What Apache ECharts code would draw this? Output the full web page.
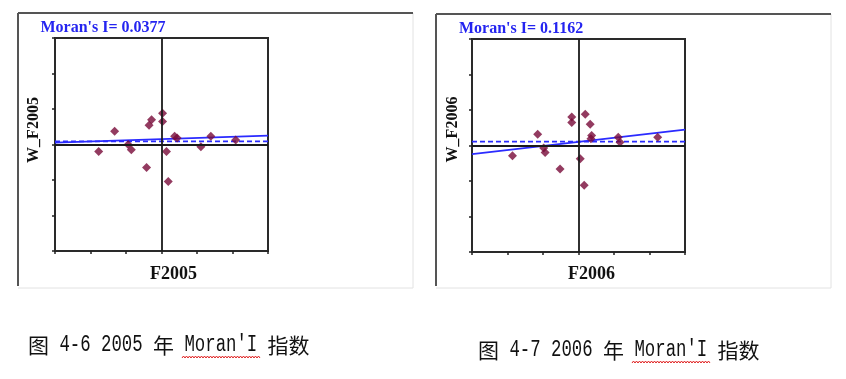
<!DOCTYPE html>
<html><head><meta charset="utf-8">
<script src="https://cdn.jsdelivr.net/npm/echarts@6/dist/echarts.min.js"></script>
<style>html,body{margin:0;padding:0;background:#fff}#c{width:846px;height:379px}</style>
</head><body><div id="c"></div>
<script>
// ---- data ----
const x2005 = [-1.77,-1.32,-0.94,-0.85,-0.42,-0.35,-0.28,0.03,0.03,0.14,0.19,0.37,0.44,1.11,1.39,2.09];
const y2005 = [-0.20,0.37,0.00,-0.15,-0.65,0.54,0.70,0.88,0.65,-0.20,-1.04,0.23,0.18,-0.06,0.23,0.13];
const x2006 = [-1.86,-1.15,-0.98,-0.94,-0.52,-0.19,-0.19,0.05,0.16,0.19,0.33,0.37,0.35,1.12,1.17,2.23];
const y2006 = [-0.29,0.32,-0.07,-0.20,-0.66,0.80,0.65,-0.37,-1.12,0.88,0.60,0.28,0.19,0.23,0.09,0.23];
const fit2005 = [[-3,0.05],[3,0.25]];
const ref2005 = [[-3,0.09],[3,0.09]];
const fit2006 = [[-3,-0.24],[3,0.45]];
const ref2006 = [[-3,0.11],[3,0.11]];
const titles = ["Moran's I= 0.0377", "Moran's I= 0.1162"];
const xNames = ['F2005','F2006'];
const yNames = ['W_F2005','W_F2006'];
const caption1 = ['图',' 4-6 2005 ','年'," Moran'I ",'指数'];
const caption2 = ['图',' 4-7 2006 ','年'," Moran'I ",'指数'];

const zip = (a,b) => a.map((v,i)=>[v,b[i]]);
const chart = echarts.init(document.getElementById('c'));

function ax(i){return {gridIndex:i,type:'value',min:-3,max:3,interval:1,
  axisLine:{show:false,onZero:false},axisTick:{show:true,length:3,lineStyle:{color:'#222',width:1.5}},
  axisLabel:{show:false},splitLine:{show:false}};}

const BLUE = '#2b2bff';
function seriesFor(i, pts, fit, ref){
  return [
    {type:'line',xAxisIndex:i,yAxisIndex:i,data:ref,showSymbol:false,z:1,silent:true,
     lineStyle:{color:BLUE,width:1.8,type:[5,3]},
     markLine:{silent:true,symbol:['none','none'],label:{show:false},animation:false,
       lineStyle:{color:'#1a1a1a',width:1.8,type:'solid'},data:[{xAxis:0},{yAxis:0}]}},
    {type:'line',xAxisIndex:i,yAxisIndex:i,data:fit,showSymbol:false,z:2,silent:true,
     lineStyle:{color:BLUE,width:1.8}},
    {type:'scatter',xAxisIndex:i,yAxisIndex:i,data:pts,symbol:'diamond',symbolSize:9,z:3,
     itemStyle:{color:'#780a38'}}
  ];
}

function panel(l,t,r,b){
  return [
    {type:'line',shape:{x1:r,y1:t,x2:r,y2:b},style:{stroke:'#e2e2e2',lineWidth:1}},
    {type:'line',shape:{x1:l,y1:b,x2:r,y2:b},style:{stroke:'#e2e2e2',lineWidth:1}},
    {type:'line',shape:{x1:l,y1:t,x2:r,y2:t},style:{stroke:'#555',lineWidth:2}},
    {type:'line',shape:{x1:l,y1:t,x2:l,y2:b-2},style:{stroke:'#555',lineWidth:2}}
  ];
}

function caption(parts, x0, y){
  const els = []; let x = x0; let ul = null;
  parts.forEach(p=>{
    if(/[^\x00-\xff]/.test(p)){
      els.push({type:'text',x:x,y:y,style:{text:p,font:'21px "Noto Sans CJK SC"',fill:'#111',align:'left',verticalAlign:'middle'}});
      x += 21*p.length;
    } else {
      els.push({type:'text',x:x,y:y,scaleX:0.754,style:{text:p,font:'23px "Liberation Mono"',fill:'#111',align:'left',verticalAlign:'middle'}});
      if(p.indexOf('Moran')>=0) ul=[x+8, x+10.4*8+4];
      x += 10.4*p.length;
    }
  });
  if(ul){
    const pts=[]; let k=0;
    for(let xx=ul[0]; xx<=ul[1]; xx+=1.5, k++) pts.push([xx, y+12+(k%2?-1:1)]);
    els.push({type:'polyline',shape:{points:pts},style:{stroke:'#e02020',lineWidth:1,fill:null}});
  }
  return els;
}

const titleFont = 'bold 16px "Liberation Serif"';
const graphic = [].concat(
  panel(18,13,413,288),
  panel(436,14,831,288),
  [
    {type:'text',x:40.5,y:28,style:{text:titles[0],font:titleFont,fill:'#2424f0',align:'left',verticalAlign:'middle'}},
    {type:'text',x:459,y:29,style:{text:titles[1],font:titleFont,fill:'#2424f0',align:'left',verticalAlign:'middle'}},
    {type:'text',x:34,y:130,rotation:Math.PI/2,style:{text:yNames[0],font:'bold 16px "Liberation Serif"',fill:'#111',align:'center',verticalAlign:'middle'}},
    {type:'text',x:453,y:129.5,rotation:Math.PI/2,style:{text:yNames[1],font:'bold 16px "Liberation Serif"',fill:'#111',align:'center',verticalAlign:'middle'}},
    {type:'text',x:173.5,y:274,style:{text:xNames[0],font:'bold 18px "Liberation Serif"',fill:'#111',align:'center',verticalAlign:'middle'}},
    {type:'text',x:591.5,y:274,style:{text:xNames[1],font:'bold 18px "Liberation Serif"',fill:'#111',align:'center',verticalAlign:'middle'}}
  ],
  caption(caption1, 28, 345),
  caption(caption2, 478, 350)
);

chart.setOption({
  animation:false,
  backgroundColor:'#fff',
  grid:[
    {left:55,top:38,width:213,height:213,show:true,borderColor:'#2a2a2a',borderWidth:2,backgroundColor:'transparent'},
    {left:472,top:39,width:213,height:213,show:true,borderColor:'#2a2a2a',borderWidth:2,backgroundColor:'transparent'}
  ],
  xAxis:[ax(0),ax(1)],
  yAxis:[ax(0),ax(1)],
  series:[].concat(seriesFor(0,zip(x2005,y2005),fit2005,ref2005), seriesFor(1,zip(x2006,y2006),fit2006,ref2006)),
  graphic:graphic
});
</script></body></html>
